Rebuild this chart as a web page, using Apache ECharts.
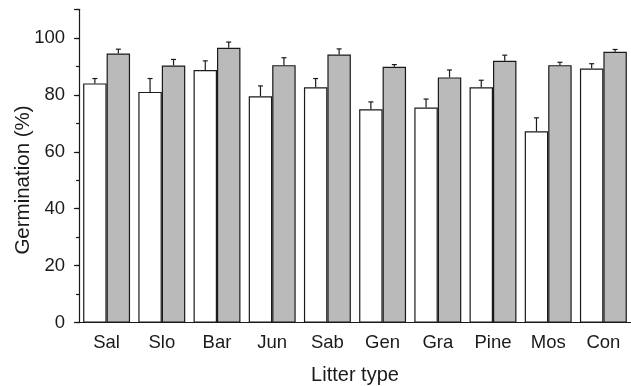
<!DOCTYPE html>
<html>
<head>
<meta charset="utf-8">
<script src="https://cdn.jsdelivr.net/npm/echarts@6/dist/echarts.min.js"></script>
<style>
  html, body { margin: 0; padding: 0; background: #fff; }
  #chart { width: 631px; height: 386px; }
</style>
</head>
<body>
<div id="chart"></div>
<script>
const categories = ['Sal', 'Slo', 'Bar', 'Jun', 'Sab', 'Gen', 'Gra', 'Pine', 'Mos', 'Con'];
const whiteVals = [84.0, 81.0, 88.7, 79.5, 82.6, 74.9, 75.5, 82.6, 67.2, 89.2];
const whiteErr  = [1.7, 4.7, 3.2, 3.6, 3.1, 2.6, 3.0, 2.5, 4.7, 1.7];
const greyVals  = [94.5, 90.3, 96.5, 90.4, 94.1, 89.8, 86.1, 91.9, 90.4, 95.1];
const greyErr   = [1.5, 2.1, 2.0, 2.6, 2.0, 0.8, 2.6, 2.0, 1.0, 0.8];

const font = 'Liberation Sans, Arial, Helvetica, sans-serif';
const ink = '#1a1a1a';
const catGap = 0.15;

// error bar drawn on top of bar; side -1 = left (white) bar, +1 = right (grey) bar
function errorBar(side) {
  return function (params, api) {
    const i = api.value(0);
    const v = api.value(1);
    const e = api.value(2);
    const band = api.size([1, 0])[0];
    const barW = band * (1 - catGap) / 2;
    const base = api.coord([i, v]);
    const top = api.coord([i, v + e]);
    const x = base[0] + side * barW / 2;
    return {
      type: 'group',
      children: [
        {type: 'line', shape: {x1: x, y1: base[1], x2: x, y2: top[1]},
          style: {stroke: ink, lineWidth: 1.2}},
        {type: 'line', shape: {x1: x - 2.5, y1: top[1], x2: x + 2.5, y2: top[1]},
          style: {stroke: ink, lineWidth: 1.2}}
      ]
    };
  };
}

const chart = echarts.init(document.getElementById('chart'), null, {renderer: 'canvas'});
chart.setOption({
  animation: false,
  backgroundColor: '#fff',
  grid: {left: 79, right: 0, top: 9.3, bottom: 63.3, outerBoundsMode: 'none', containLabel: false},
  xAxis: {
    type: 'category',
    data: categories,
    name: 'Litter type',
    nameLocation: 'middle',
    nameGap: 43,
    nameMoveOverlap: false,
    nameTextStyle: {fontFamily: font, fontSize: 20, color: ink},
    axisLine: {lineStyle: {color: ink, width: 1.2}},
    axisTick: {alignWithLabel: true, length: 4, lineStyle: {color: ink, width: 1.2}},
    axisLabel: {fontFamily: font, fontSize: 18.5, color: ink, margin: 11}
  },
  yAxis: [
    {
      type: 'value',
      min: 0, max: 110, interval: 10,
      name: 'Germination (%)',
      nameLocation: 'middle',
      nameGap: 45,
      nameMoveOverlap: false,
      nameTextStyle: {fontFamily: font, fontSize: 20.5, color: ink, padding: [0, 28, 0, 0]},
      splitLine: {show: false},
      axisLine: {show: true, lineStyle: {color: ink, width: 1.2}},
      axisTick: {show: true, length: 3, lineStyle: {color: ink, width: 1.2}},
      axisLabel: {
        fontFamily: font, fontSize: 18.5, color: ink, margin: 14,
        formatter: v => (v % 20 === 0 && v <= 100 ? String(v) : '')
      }
    },
    {
      type: 'value',
      min: 0, max: 110, interval: 20,
      position: 'left',
      splitLine: {show: false},
      axisLine: {show: false},
      axisTick: {show: true, length: 5, lineStyle: {color: ink, width: 1.2}},
      axisLabel: {show: false}
    }
  ],
  series: [
    {
      type: 'bar',
      data: whiteVals,
      barGap: '0%',
      barCategoryGap: (catGap * 100) + '%',
      itemStyle: {color: '#ffffff', borderColor: ink, borderWidth: 1.2}
    },
    {
      type: 'bar',
      data: greyVals,
      itemStyle: {color: '#bababa', borderColor: ink, borderWidth: 1.2}
    },
    {
      type: 'custom',
      renderItem: errorBar(-1),
      data: whiteVals.map((v, i) => [i, v, whiteErr[i]]),
      encode: {x: 0, y: 1},
      z: 5
    },
    {
      type: 'custom',
      renderItem: errorBar(1),
      data: greyVals.map((v, i) => [i, v, greyErr[i]]),
      encode: {x: 0, y: 1},
      z: 5
    }
  ]
});
</script>
</body>
</html>
